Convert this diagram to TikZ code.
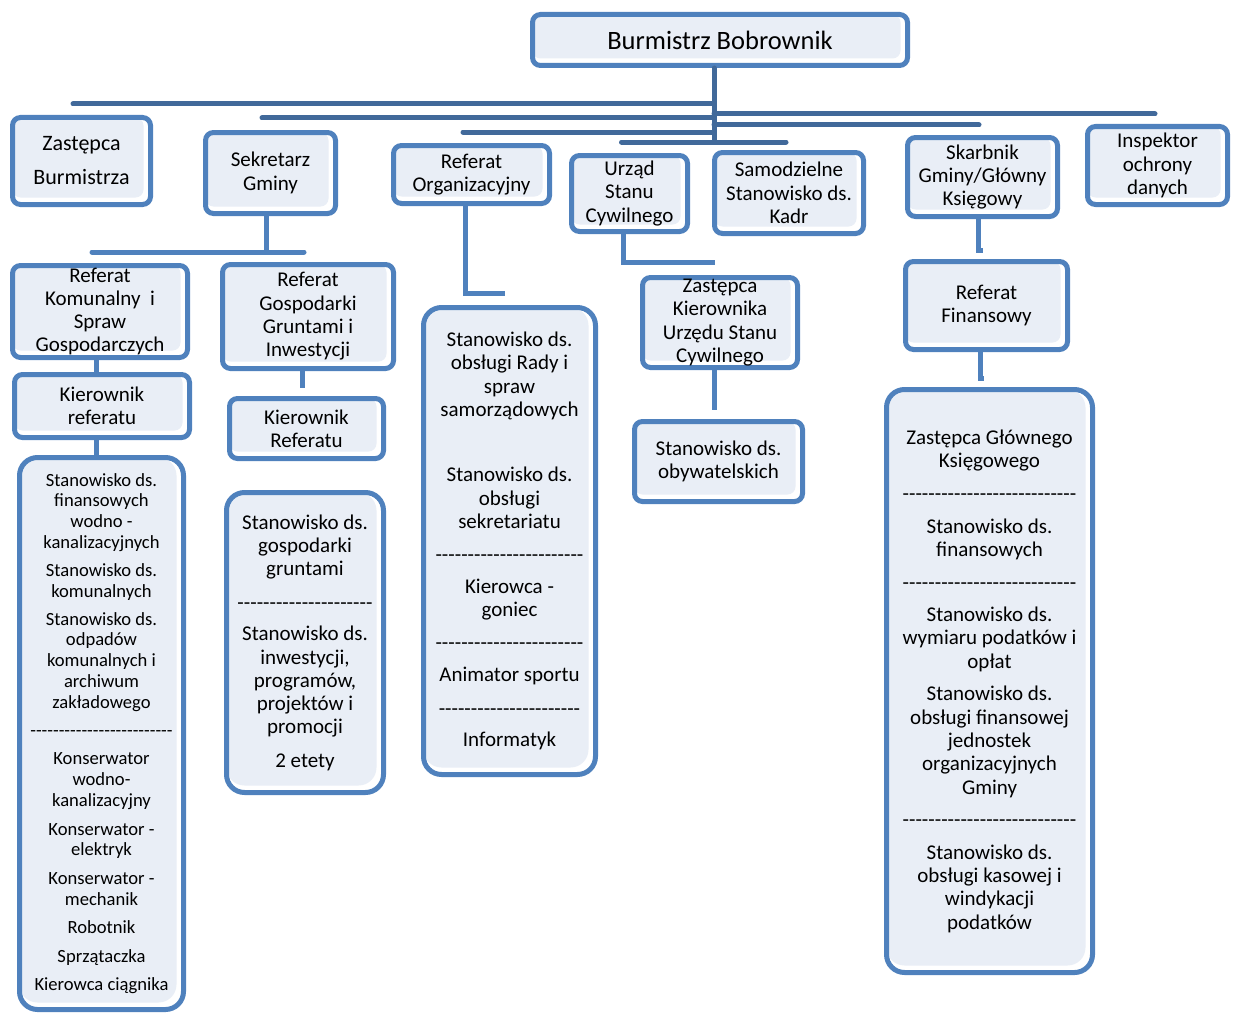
\documentclass[tikz,border=0pt]{standalone}
\usepackage{fontspec}
\setmainfont{Carlito}[Ligatures=TeXOff]
\definecolor{boxline}{HTML}{4F81BD}
\definecolor{boxfill}{HTML}{E9EEF6}
\definecolor{busline}{HTML}{41699A}

\begin{document}
\begin{tikzpicture}[x=1pt, y=-1pt,
    unit/.style={draw=boxline, line width=5pt, rounded corners=8pt, fill=white,
        align=center, inner sep=0pt, font=\fontsize{21}{23.3}\selectfont,
        path picture={\fill[boxfill] (path picture bounding box.north west)
            rectangle ([shift={(-7pt,7pt)}]path picture bounding box.south east);}},
    list/.style={unit, rounded corners=18pt},
    bus/.style={draw=busline, line width=5pt, line cap=round},
    link/.style={draw=boxline, line width=5pt}]
    \useasboundingbox (0,0) rectangle (1233,1014);

    % Burmistrz
    \node[unit, font=\fontsize{26.5}{30}\selectfont, minimum width=375pt, minimum height=51pt] (burm) at (720,40) {Burmistrz Bobrownik};

    % second row
    \node[unit, font=\fontsize{22}{26}\selectfont, minimum width=138pt, minimum height=87pt] (zast) at (81.5,161) {Zastępca\\[8pt]Burmistrza};
    \node[unit, minimum width=130pt, minimum height=81pt] (sekr) at (270.5,173) {Sekretarz\\Gminy};
    \node[unit, minimum width=156pt, minimum height=58pt] (org) at (471.5,174.5) {Referat\\Organizacyjny};
    \node[unit, minimum width=116pt, minimum height=76pt] (usc) at (629.5,193.5) {Urząd\\Stanu\\Cywilnego};
    \node[unit, minimum width=149pt, minimum height=81pt] (kadr) at (789,193) {Samodzielne\\Stanowisko ds.\\Kadr};
    \node[unit, minimum width=150pt, minimum height=79pt] (skarb) at (982.5,177) {Skarbnik\\Gminy/Główny\\Księgowy};
    \node[unit, minimum width=140pt, minimum height=78pt] (iod) at (1157.5,165.5) {Inspektor\\ochrony\\danych};

    % bus from Burmistrz
    \coordinate (hub) at (714,142);
    \coordinate (row1) at (0,104);
    \coordinate (row2) at (0,118);
    \coordinate (row3) at (0,132);
    \coordinate (row4) at (0,114);
    \coordinate (row5) at (0,125);
    \draw[bus] ([xshift=-6pt]burm.south) -- (hub);
    \draw[bus] (hub |- row1) -- ([xshift=-8.5pt]zast.north |- row1);
    \draw[bus] (hub |- row2) -- ([xshift=-8.5pt]sekr.north |- row2);
    \draw[bus] (hub |- row3) -- ([xshift=-8.5pt]org.north |- row3);
    \draw[bus] ([xshift=-8pt]usc.north |- hub) -- ([xshift=-3pt]kadr.north |- hub);
    \draw[bus] (hub |- row4) -- ([xshift=-2.5pt]iod.north |- row4);
    \draw[bus] (hub |- row5) -- ([xshift=-3.5pt]skarb.north |- row5);

    % Sekretarz Gminy
    \node[unit, minimum width=175pt, minimum height=92pt] (kom) at (100,311.5) {Referat\\Komunalny\ \ i\\Spraw\\Gospodarczych};
    \node[unit, minimum width=175pt, minimum height=63pt] (kierA) at (102,406) {Kierownik\\referatu};
    \node[unit, minimum width=171pt, minimum height=104pt] (grunt) at (308,316.5) {Referat\\Gospodarki\\Gruntami i\\Inwestycji};
    \node[unit, minimum width=154pt, minimum height=60pt] (kierB) at (306.5,428.5) {Kierownik\\Referatu};
    \node[list, font=\fontsize{18.6}{20.7}\selectfont, minimum width=164pt, minimum height=552pt] (komList) at (101.5,733.5)
        {Stanowisko ds.\\finansowych\\wodno -\\kanalizacyjnych\\[7.5pt]Stanowisko ds.\\komunalnych\\[7.5pt]Stanowisko ds.\\odpadów\\komunalnych i\\archiwum\\zakładowego\\[8pt]-------------------------\\[7.5pt]Konserwator\\wodno-\\kanalizacyjny\\[8pt]Konserwator -\\elektryk\\[8pt]Konserwator -\\mechanik\\[8pt]Robotnik\\[7.5pt]Sprzątaczka\\[8pt]Kierowca ciągnika};
    \node[list, minimum width=157pt, minimum height=300pt] (gruntList) at (305,642.5)
        {Stanowisko ds.\\gospodarki\\gruntami\\[10.5pt]---------------------\\[8pt]Stanowisko ds.\\inwestycji,\\programów,\\projektów i\\promocji\\[10pt]2 etety};

    \coordinate (sj) at (266,252);
    \draw[link] ([xshift=-4.5pt]sekr.south) -- (sj);
    \draw[link, line cap=round] ([xshift=-8pt]kom.north |- sj) -- ([xshift=-4pt]grunt.north |- sj);
    \draw[link] ([xshift=-4pt]kom.south) -- ([xshift=-4pt]kom.south |- kierA.north);
    \draw[link] ([xshift=-6pt]kierA.south) -- ([xshift=-6pt]kierA.south |- komList.north);
    \draw[link] ([xshift=-6pt]grunt.south) -- ++(0,17);

    % Referat Organizacyjny
    \node[list, minimum width=172pt, minimum height=467pt] (orgList) at (509.5,541)
        {Stanowisko ds.\\obsługi Rady i\\spraw\\samorządowych\\[42pt]Stanowisko ds.\\obsługi\\sekretariatu\\[9.5pt]-----------------------\\[9pt]Kierowca -\\goniec\\[9.5pt]-----------------------\\[9pt]Animator sportu\\[10pt]----------------------\\[8pt]Informatyk};
    \draw[link] ([xshift=-6.5pt]org.south) |- ([xshift=-4.5pt,yshift=12pt]orgList.north);

    % Urząd Stanu Cywilnego
    \node[unit, minimum width=155pt, minimum height=90pt] (uscZ) at (720,322.5) {Zastępca\\Kierownika\\Urzędu Stanu\\Cywilnego};
    \node[unit, minimum width=168pt, minimum height=80pt] (obyw) at (718.5,461.5) {Stanowisko ds.\\obywatelskich};
    \draw[link] ([xshift=-6.5pt]usc.south) |- ([xshift=-5pt,yshift=12.5pt]uscZ.north);
    \draw[link] ([xshift=-6pt]uscZ.south) -- ++(0,40);

    % Skarbnik
    \node[unit, minimum width=162pt, minimum height=88pt] (finRef) at (986.5,305.5) {Referat\\Finansowy};
    \node[list, minimum width=206pt, minimum height=583pt] (finList) at (989.5,681)
        {Zastępca Głównego\\Księgowego\\[9.5pt]---------------------------\\[9.5pt]Stanowisko ds.\\finansowych\\[9.5pt]---------------------------\\[9pt]Stanowisko ds.\\wymiaru podatków i\\opłat\\[9.5pt]Stanowisko ds.\\obsługi finansowej\\jednostek\\organizacyjnych\\Gminy\\[9.5pt]---------------------------\\[9pt]Stanowisko ds.\\obsługi kasowej i\\windykacji\\podatków};
    \draw[link] ([xshift=-4.5pt]skarb.south) -- ++(0,31) -- ++(5,0);
    \draw[link] ([xshift=-6.5pt]finRef.south) -- ++(0,26) -- ++(4,0);

\end{tikzpicture}
\end{document}
